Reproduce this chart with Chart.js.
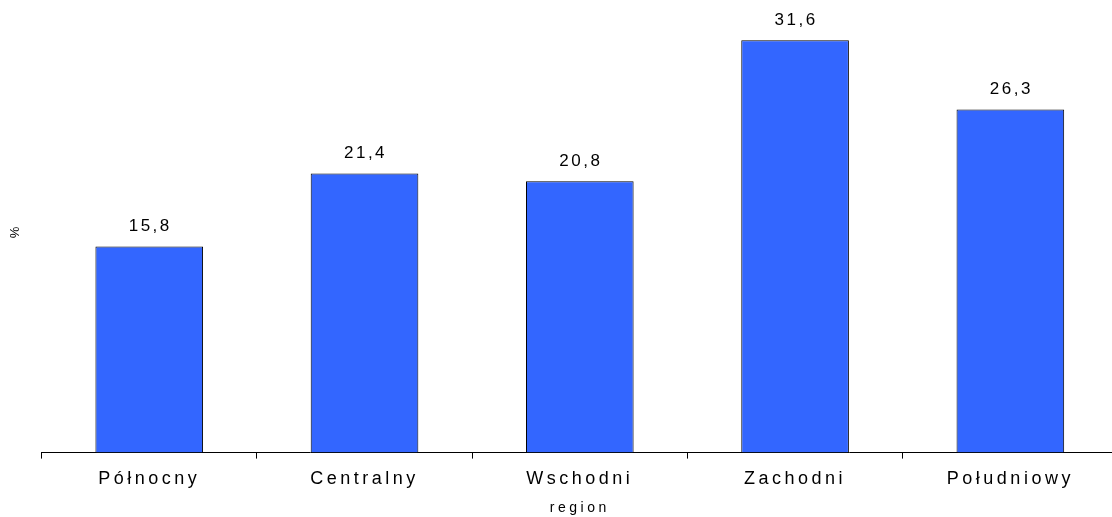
<!DOCTYPE html>
<html lang="pl">
<head>
    <meta charset="UTF-8">
    <title>Wykres regionów</title>
    <style>
        html, body { margin: 0; padding: 0; overflow: hidden; background: #fff; }
        #wrap { position: relative; width: 1118px; height: 517px; }
    </style>
    <script src="https://cdn.jsdelivr.net/npm/chart.js"></script>
</head>
<body>
    <div id="wrap"><canvas id="myChart"></canvas></div>
    <script>
        const regions = ['Północny', 'Centralny', 'Wschodni', 'Zachodni', 'Południowy'];
        const values = [15.8, 21.4, 20.8, 31.6, 26.3];

        // etykiety wartości nad słupkami (przecinek dziesiętny)
        const valueLabels = {
            id: 'valueLabels',
            afterDatasetsDraw(chart) {
                const ctx = chart.ctx;
                const meta = chart.getDatasetMeta(0);
                ctx.save();
                ctx.letterSpacing = '2.5px';
                ctx.font = '17px "Liberation Sans", Arial, sans-serif';
                ctx.fillStyle = '#000';
                ctx.textAlign = 'center';
                ctx.textBaseline = 'alphabetic';
                meta.data.forEach((bar, i) => {
                    ctx.fillText(values[i].toFixed(1).replace('.', ','), bar.x + 1, bar.y - 15);
                });
                ctx.restore();
            }
        };

        const spacing = {
            id: 'spacing',
            beforeDraw(chart) {
                chart.ctx.letterSpacing = '3.5px';
            }
        };

        new Chart(document.getElementById('myChart'), {
            type: 'bar',
            data: {
                labels: regions,
                datasets: [{
                    data: values,
                    backgroundColor: '#3366FF',
                    borderColor: '#000',
                    borderWidth: 1,
                    barPercentage: 0.5,
                    categoryPercentage: 1
                }]
            },
            options: {
                responsive: true,
                maintainAspectRatio: false,
                animation: false,
                layout: { padding: { top: 9, left: 0, right: 0, bottom: 0 } },
                plugins: {
                    legend: { display: false },
                    tooltip: { enabled: false }
                },
                scales: {
                    x: {
                        grid: {
                            offset: true,
                            drawOnChartArea: false,
                            color: '#000',
                            tickLength: 6
                        },
                        border: { color: '#000', width: 1 },
                        ticks: {
                            color: '#000',
                            padding: 10,
                            font: { family: '"Liberation Sans", Arial, sans-serif', size: 18 }
                        },
                        title: {
                            display: true,
                            text: 'region',
                            color: '#000',
                            padding: { top: 0, bottom: 0 },
                            font: { family: '"Liberation Sans", Arial, sans-serif', size: 14 }
                        }
                    },
                    y: {
                        min: 0,
                        max: 34,
                        grid: { display: false },
                        border: { display: false },
                        ticks: { display: false },
                        title: {
                            display: true,
                            text: '%',
                            color: '#000',
                            padding: { top: 8, bottom: 10 },
                            font: { family: '"Liberation Sans", Arial, sans-serif', size: 13 }
                        }
                    }
                }
            },
            plugins: [spacing, valueLabels]
        });
    </script>
</body>
</html>
